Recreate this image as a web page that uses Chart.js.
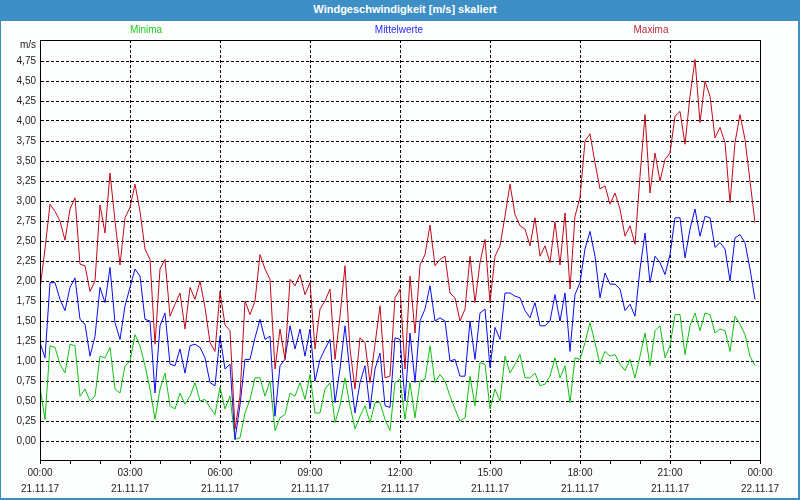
<!DOCTYPE html>
<html>
<head>
<meta charset="utf-8">
<script src="https://cdn.jsdelivr.net/npm/chart.js@4.4.0/dist/chart.umd.min.js"></script>
<style>
  body { margin: 0; background: #fff; }
  #fenster { position: relative; width: 800px; height: 500px; background: #fcfdfd; overflow: hidden; font-family: 'Liberation Sans', Arial, sans-serif; }
  #fenster canvas { position: absolute; left: 0; top: 0; }
  #titel { position: absolute; left: 0; top: 0; width: 800px; height: 21px; background: #3d8fc6; color: #fff; font-size: 11px; font-weight: bold; text-align: center; line-height: 19px; text-indent: 10px; }
  #rand { position: absolute; left: 0; top: 0; width: 800px; height: 500px; box-sizing: border-box; border: 1px solid #3d8fc6; border-right-width: 2px; border-bottom-width: 2px; pointer-events: none; }
  .leg { position: absolute; top: 24px; font-size: 10px; transform: translateX(-50%); white-space: nowrap; }
  #einheit { position: absolute; left: 20px; top: 39px; font-size: 10px; color: #222; }
</style>
</head>
<body>
<div id="fenster">
  <canvas id="grafik" width="800" height="500"></canvas>
  <div id="titel">Windgeschwindigkeit [m/s] skaliert</div>
  <div class="leg" style="left:146px;color:#22cc22">Minima</div>
  <div class="leg" style="left:399px;color:#2a2aff">Mittelwerte</div>
  <div class="leg" style="left:651px;color:#c02a3c">Maxima</div>
  <div id="einheit">m/s</div>
  <div id="rand"></div>
</div>
<script>
// Werte alle 10 Minuten (21.11.17 00:00 bis 23:50)
const minima = [
  0.67, 0.27, 1.19, 1.17, 0.96, 0.85, 1.21, 1.19, 0.56, 0.65,
  0.50, 0.56, 1.06, 1.04, 1.17, 0.65, 0.60, 0.94, 1.00, 1.33,
  1.19, 0.94, 0.65, 0.27, 0.65, 0.85, 0.44, 0.40, 0.60, 0.46,
  0.56, 0.73, 0.50, 0.52, 0.42, 0.33, 0.67, 0.40, 0.56, 0.02,
  0.04, 0.35, 0.52, 0.79, 0.79, 0.56, 0.75, 0.13, 0.29, 0.33,
  0.60, 0.56, 0.73, 0.52, 0.83, 0.35, 0.35, 0.65, 0.73, 0.23,
  0.44, 0.79, 0.44, 0.15, 0.31, 0.44, 0.23, 0.48, 0.48, 0.27,
  0.13, 0.73, 0.77, 0.27, 0.73, 0.29, 0.75, 0.77, 1.19, 0.73,
  0.83, 0.75, 0.56, 0.40, 0.25, 0.29, 0.81, 0.44, 0.98, 0.96,
  0.40, 0.65, 0.50, 1.06, 0.85, 0.96, 1.08, 0.79, 0.79, 0.85,
  0.69, 0.71, 0.81, 1.04, 0.79, 0.94, 0.48, 1.04, 1.02, 1.23,
  1.48, 1.23, 0.96, 1.12, 1.06, 1.08, 0.96, 0.88, 1.02, 0.79,
  1.06, 1.35, 0.94, 1.38, 1.44, 1.04, 1.19, 1.58, 1.58, 1.08,
  1.44, 1.60, 1.38, 1.60, 1.58, 1.35, 1.40, 1.38, 1.12, 1.56,
  1.46, 1.33, 1.06, 0.94
];
const mittelwerte = [
  1.23, 1.04, 1.98, 1.98, 1.77, 1.63, 1.92, 2.04, 1.52, 1.46,
  1.06, 1.31, 1.92, 1.73, 2.17, 1.48, 1.27, 1.69, 1.92, 2.15,
  2.06, 1.52, 1.50, 0.60, 1.44, 1.60, 0.96, 0.94, 1.15, 0.85,
  1.19, 1.21, 1.17, 1.04, 0.73, 0.69, 1.31, 0.90, 0.96, 0.02,
  0.45, 1.02, 1.02, 1.29, 1.52, 1.27, 1.31, 0.31, 0.94, 1.02,
  1.44, 1.15, 1.40, 1.06, 1.40, 0.75, 1.02, 1.15, 1.27, 0.48,
  0.90, 1.44, 0.85, 0.35, 0.73, 0.94, 0.40, 0.90, 1.10, 0.44,
  0.42, 1.29, 1.27, 0.50, 1.35, 0.73, 1.50, 1.65, 1.94, 1.50,
  1.54, 1.50, 1.00, 1.02, 0.81, 0.81, 1.50, 1.02, 1.60, 1.65,
  0.92, 1.42, 1.27, 1.85, 1.85, 1.81, 1.79, 1.63, 1.54, 1.73,
  1.44, 1.44, 1.50, 1.83, 1.50, 1.85, 1.12, 1.83, 1.98, 2.40,
  2.62, 2.31, 1.79, 2.10, 1.96, 1.96, 1.90, 1.63, 1.71, 1.56,
  2.15, 2.60, 1.98, 2.31, 2.23, 2.08, 2.33, 2.79, 2.79, 2.29,
  2.65, 2.90, 2.56, 2.81, 2.79, 2.42, 2.48, 2.40, 2.00, 2.54,
  2.58, 2.48, 2.15, 1.77
];
const maxima = [
  1.90, 2.40, 2.96, 2.87, 2.75, 2.51, 2.90, 3.04, 2.21, 2.19,
  1.87, 2.00, 2.95, 2.60, 3.35, 2.75, 2.20, 2.79, 2.92, 3.21,
  2.87, 2.40, 2.27, 1.21, 2.15, 2.27, 1.56, 1.71, 1.85, 1.40,
  1.92, 1.77, 2.00, 1.67, 1.23, 1.12, 1.87, 1.45, 1.38, 0.15,
  0.56, 1.75, 1.58, 1.75, 2.33, 2.15, 2.02, 0.90, 1.40, 1.02,
  2.02, 1.94, 2.08, 1.83, 1.98, 1.15, 1.65, 1.75, 1.90, 1.02,
  1.56, 2.19, 1.15, 0.65, 1.29, 1.23, 0.73, 1.21, 1.69, 0.79,
  0.81, 1.79, 1.90, 0.90, 2.06, 1.35, 2.20, 2.33, 2.70, 2.19,
  2.27, 2.31, 1.85, 1.79, 1.50, 1.65, 2.31, 1.73, 2.23, 2.52,
  1.73, 2.31, 2.44, 2.81, 3.21, 2.83, 2.69, 2.65, 2.44, 2.79,
  2.31, 2.44, 2.23, 2.74, 2.20, 2.85, 1.90, 2.81, 3.04, 3.75,
  3.84, 3.48, 3.15, 3.19, 2.96, 3.10, 2.90, 2.56, 2.69, 2.46,
  3.31, 4.08, 3.10, 3.60, 3.25, 3.52, 3.60, 4.06, 4.12, 3.71,
  4.31, 4.77, 3.98, 4.50, 4.31, 3.79, 3.92, 3.73, 2.98, 3.73,
  4.08, 3.77, 3.25, 2.73
];

// Achsenbeschriftung
const yTicks = [0, 0.25, 0.5, 0.75, 1, 1.25, 1.5, 1.75, 2, 2.25, 2.5, 2.75, 3, 3.25, 3.5, 3.75, 4, 4.25, 4.5, 4.75];
const zeitLabels = ['00:00', '03:00', '06:00', '09:00', '12:00', '15:00', '18:00', '21:00', '00:00'];
const datumLabels = ['21.11.17', '21.11.17', '21.11.17', '21.11.17', '21.11.17', '21.11.17', '21.11.17', '21.11.17', '22.11.17'];
const stundenTicks = [0, 60, 120, 180, 240, 300, 360, 420, 480, 540, 600, 660, 720, 780, 840, 900, 960, 1020, 1080, 1140, 1200, 1260, 1320, 1380, 1440];

const schrift = { family: "'Liberation Sans', Arial, sans-serif", size: 10 };

function punkte(werte) {
    return werte.map((v, i) => ({ x: i * 10, y: v }));
}

// Rahmen um den Plotbereich
const rahmenPlugin = {
    id: 'rahmenPlugin',
    afterDatasetsDraw(chart) {
        const a = chart.chartArea;
        const ctx = chart.ctx;
        ctx.save();
        ctx.strokeStyle = '#000';
        ctx.lineWidth = 1;
        ctx.setLineDash([]);
        ctx.strokeRect(a.left + 0.5, a.top + 0.5, a.right - a.left, a.bottom - a.top);
        ctx.restore();
    }
};

const ctx = document.getElementById('grafik').getContext('2d');
new Chart(ctx, {
    type: 'line',
    data: {
        datasets: [
            { label: 'Maxima', data: punkte(maxima), borderColor: '#c00a1a' },
            { label: 'Mittelwerte', data: punkte(mittelwerte), borderColor: '#0c0cf0' },
            { label: 'Minima', data: punkte(minima), borderColor: '#12c012' }
        ]
    },
    options: {
        responsive: false,
        animation: false,
        layout: { padding: { top: 40, right: 40, left: 0, bottom: 0 } },
        elements: {
            point: { radius: 0 },
            line: { borderWidth: 1, tension: 0 }
        },
        plugins: {
            legend: { display: false },
            tooltip: { enabled: false }
        },
        scales: {
            x: {
                type: 'linear',
                min: 0,
                max: 1440,
                afterFit: s => { s.height = 40; },
                afterBuildTicks: s => { s.ticks = stundenTicks.map(v => ({ value: v })); },
                ticks: {
                    autoSkip: false,
                    maxRotation: 0,
                    padding: 1,
                    color: '#222',
                    font: { ...schrift, lineHeight: 1.6 },
                    callback: v => (v % 180 === 0 ? [zeitLabels[v / 180], datumLabels[v / 180]] : '')
                },
                grid: {
                    color: c => (c.tick && c.tick.value % 180 === 0 ? '#000' : 'rgba(0,0,0,0)'),
                    tickColor: '#000',
                    tickLength: 4,
                    tickBorderDash: []
                },
                border: { color: '#000', dash: [3, 2] }
            },
            y: {
                min: -0.2375,
                max: 5.0125,
                afterFit: s => { s.width = 40; },
                afterBuildTicks: s => { s.ticks = yTicks.map(v => ({ value: v })); },
                ticks: {
                    padding: 4,
                    color: '#222',
                    font: schrift,
                    callback: v => v.toFixed(2).replace('.', ',')
                },
                grid: { color: '#000', drawTicks: false },
                border: { color: '#000', dash: [3, 2] }
            }
        }
    },
    plugins: [rahmenPlugin]
});
</script>
</body>
</html>
